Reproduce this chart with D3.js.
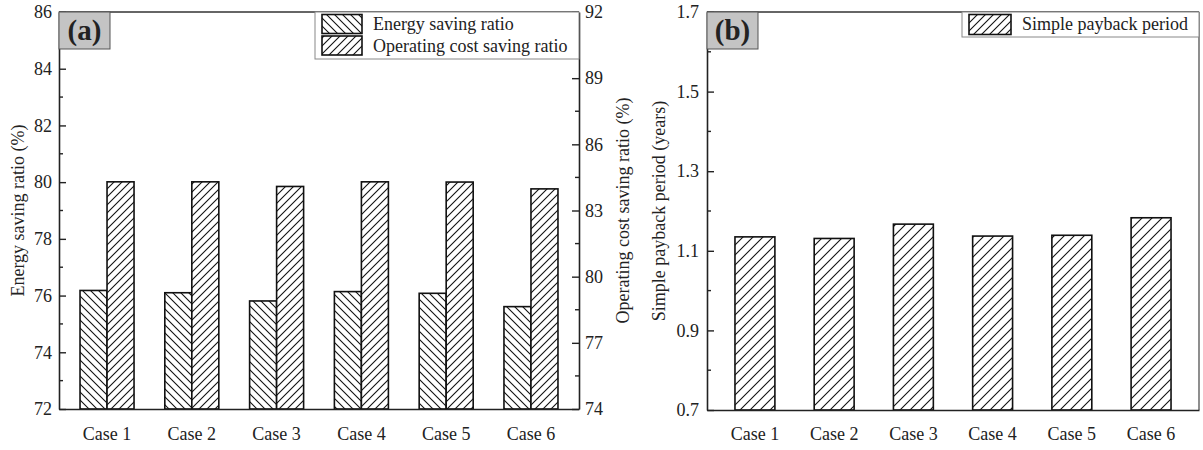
<!DOCTYPE html>
<html>
<head>
<meta charset="utf-8">
<script src="https://cdn.jsdelivr.net/npm/d3@7"></script>
<style>
  body { margin: 0; background: #fff; }
  text { font-family: "Liberation Serif", "Times New Roman", serif; fill: #222; }
</style>
</head>
<body>
<div id="chart"></div>
<script>
var cases = ["Case 1", "Case 2", "Case 3", "Case 4", "Case 5", "Case 6"];
var energySaving = [76.18, 76.10, 75.81, 76.14, 76.08, 75.61];
var costSaving = [84.30, 84.30, 84.09, 84.30, 84.29, 83.98];
var payback = [1.135, 1.131, 1.167, 1.137, 1.139, 1.183];

var energyTicks = [72, 74, 76, 78, 80, 82, 84, 86];
var energyMinor = [73, 75, 77, 79, 81, 83, 85];
var costTicks = [74, 77, 80, 83, 86, 89, 92];
var costMinor = [75.5, 78.5, 81.5, 84.5, 87.5, 90.5];
var paybackTicks = [0.7, 0.9, 1.1, 1.3, 1.5, 1.7];
var paybackMinor = [0.8, 1.0, 1.2, 1.4, 1.6];

var W = 1203, H = 450;
var svg = d3.select("#chart").append("svg")
  .attr("width", W).attr("height", H);

// hatch patterns
var defs = svg.append("defs");
function hatch(id, size, back) {
  var p = defs.append("pattern")
    .attr("id", id)
    .attr("patternUnits", "userSpaceOnUse")
    .attr("width", size).attr("height", size);
  p.append("rect").attr("width", size).attr("height", size).attr("fill", "#fff");
  var s = size;
  var d = back
    ? "M" + (-s / 4) + "," + (3 * s / 4) + " l" + (s / 2) + "," + (s / 2) +
      " M0,0 l" + s + "," + s +
      " M" + (3 * s / 4) + "," + (-s / 4) + " l" + (s / 2) + "," + (s / 2)
    : "M" + (-s / 4) + "," + (s / 4) + " l" + (s / 2) + "," + (-s / 2) +
      " M0," + s + " l" + s + "," + (-s) +
      " M" + (3 * s / 4) + "," + (5 * s / 4) + " l" + (s / 2) + "," + (-s / 2);
  p.append("path").attr("d", d).attr("stroke", "#111").attr("stroke-width", 1.1);
}
hatch("hatchBack", 8, true);
hatch("hatchFwd", 8, false);
hatch("hatchFwdB", 10, false);

// ---------- panel (a) ----------
var a = { left: 59, right: 579, top: 12, bottom: 409 };

var xa = d3.scaleBand().domain(cases)
  .range([a.left, a.right]).paddingInner(0.363).paddingOuter(0.248);
var ya = d3.scaleLinear().domain([72, 86]).range([a.bottom, a.top]);
var ya2 = d3.scaleLinear().domain([74, 92]).range([a.bottom, a.top]);

var ga = svg.append("g");

ga.selectAll(".eBar").data(energySaving).enter().append("rect")
  .attr("x", (d, i) => xa(cases[i]))
  .attr("y", d => ya(d))
  .attr("width", xa.bandwidth() / 2)
  .attr("height", d => ya(72) - ya(d))
  .attr("fill", "url(#hatchBack)")
  .attr("stroke", "#111").attr("stroke-width", 1.6);

ga.selectAll(".cBar").data(costSaving).enter().append("rect")
  .attr("x", (d, i) => xa(cases[i]) + xa.bandwidth() / 2)
  .attr("y", d => ya2(d))
  .attr("width", xa.bandwidth() / 2)
  .attr("height", d => ya2(74) - ya2(d))
  .attr("fill", "url(#hatchFwd)")
  .attr("stroke", "#111").attr("stroke-width", 1.6);

// frame top
ga.append("line").attr("x1", a.left).attr("x2", a.right)
  .attr("y1", a.top).attr("y2", a.top)
  .attr("stroke", "#333").attr("stroke-width", 1.5);

function styleAxis(g) {
  g.select(".domain").attr("stroke", "#222").attr("stroke-width", 1.6);
  g.selectAll(".tick line").attr("stroke", "#222").attr("stroke-width", 1.4);
  g.selectAll("text").style("font-size", "18px")
    .style("font-family", "'Liberation Serif', serif").attr("fill", "#222");
}

var axL = ga.append("g").attr("transform", "translate(" + a.left + ",0)")
  .call(d3.axisLeft(ya).tickValues(energyTicks).tickSizeInner(-7).tickSizeOuter(0).tickPadding(7));
axL.append("g").selectAll("line").data(energyMinor).enter().append("line")
  .attr("x1", 0).attr("x2", 4).attr("y1", d => ya(d)).attr("y2", d => ya(d))
  .attr("stroke", "#222").attr("stroke-width", 1.4);
styleAxis(axL);

var axR = ga.append("g").attr("transform", "translate(" + a.right + ",0)")
  .call(d3.axisRight(ya2).tickValues(costTicks).tickSizeInner(-7).tickSizeOuter(0).tickPadding(6));
axR.append("g").selectAll("line").data(costMinor).enter().append("line")
  .attr("x1", 0).attr("x2", -4).attr("y1", d => ya2(d)).attr("y2", d => ya2(d))
  .attr("stroke", "#222").attr("stroke-width", 1.4);
styleAxis(axR);

var axB = ga.append("g").attr("transform", "translate(0," + a.bottom + ")")
  .call(d3.axisBottom(xa).tickSize(0).tickPadding(18));
styleAxis(axB);

ga.append("text")
  .attr("transform", "translate(24," + (a.top + a.bottom) / 2 + ") rotate(-90)")
  .attr("text-anchor", "middle").style("font-size", "18px")
  .text("Energy saving ratio (%)");
ga.append("text")
  .attr("transform", "translate(629," + (a.top + a.bottom) / 2 + ") rotate(-90)")
  .attr("text-anchor", "middle").style("font-size", "18px")
  .text("Operating cost saving ratio (%)");

// (a) label
ga.append("rect").attr("x", a.left).attr("y", a.top).attr("width", 51).attr("height", 37)
  .attr("fill", "#c4c4c4").attr("stroke", "#555").attr("stroke-width", 1);
ga.append("text").attr("x", a.left + 25.5).attr("y", a.top + 28)
  .attr("text-anchor", "middle").style("font-size", "29px").style("font-weight", "bold")
  .text("(a)");

// legend (a)
var legA = ga.append("g");
legA.append("rect").attr("x", 315).attr("y", a.top).attr("width", a.right - 315).attr("height", 47)
  .attr("fill", "#fff").attr("stroke", "#888").attr("stroke-width", 1);
var legItems = [
  { label: "Energy saving ratio", fill: "url(#hatchBack)" },
  { label: "Operating cost saving ratio", fill: "url(#hatchFwd)" }
];
legItems.forEach(function(d, i) {
  legA.append("rect").attr("x", 322).attr("y", 14.5 + i * 21.5).attr("width", 40).attr("height", 19)
    .attr("fill", d.fill).attr("stroke", "#111").attr("stroke-width", 1.6);
  legA.append("text").attr("x", 373).attr("y", 30 + i * 22)
    .style("font-size", "18px").text(d.label);
});

// ---------- panel (b) ----------
var b = { left: 707, right: 1199, top: 12, bottom: 410 };

var xb = d3.scaleBand().domain(cases)
  .range([b.left, b.right]).paddingInner(0.496).paddingOuter(0.353);
var yb = d3.scaleLinear().domain([0.7, 1.7]).range([b.bottom, b.top]);

var gb = svg.append("g");

gb.selectAll(".pBar").data(payback).enter().append("rect")
  .attr("x", (d, i) => xb(cases[i]))
  .attr("y", d => yb(d))
  .attr("width", xb.bandwidth())
  .attr("height", d => yb(0.7) - yb(d))
  .attr("fill", "url(#hatchFwdB)")
  .attr("stroke", "#111").attr("stroke-width", 1.6);

gb.append("line").attr("x1", b.left).attr("x2", b.right)
  .attr("y1", b.top).attr("y2", b.top)
  .attr("stroke", "#333").attr("stroke-width", 1.5);
gb.append("line").attr("x1", b.right).attr("x2", b.right)
  .attr("y1", b.top).attr("y2", b.bottom)
  .attr("stroke", "#444").attr("stroke-width", 1.2);

var axLb = gb.append("g").attr("transform", "translate(" + b.left + ",0)")
  .call(d3.axisLeft(yb).tickValues(paybackTicks).tickFormat(d3.format(".1f"))
    .tickSizeInner(-7).tickSizeOuter(0).tickPadding(8));
axLb.append("g").selectAll("line").data(paybackMinor).enter().append("line")
  .attr("x1", 0).attr("x2", 4).attr("y1", d => yb(d)).attr("y2", d => yb(d))
  .attr("stroke", "#222").attr("stroke-width", 1.4);
styleAxis(axLb);

var axBb = gb.append("g").attr("transform", "translate(0," + b.bottom + ")")
  .call(d3.axisBottom(xb).tickSize(0).tickPadding(17));
styleAxis(axBb);

gb.append("text")
  .attr("transform", "translate(665," + (b.top + b.bottom) / 2 + ") rotate(-90)")
  .attr("text-anchor", "middle").style("font-size", "18px")
  .text("Simple payback period (years)");

gb.append("rect").attr("x", b.left).attr("y", b.top).attr("width", 51).attr("height", 37)
  .attr("fill", "#c4c4c4").attr("stroke", "#555").attr("stroke-width", 1);
gb.append("text").attr("x", b.left + 25.5).attr("y", b.top + 28)
  .attr("text-anchor", "middle").style("font-size", "29px").style("font-weight", "bold")
  .text("(b)");

var legB = gb.append("g");
legB.append("rect").attr("x", 962).attr("y", b.top).attr("width", b.right - 962).attr("height", 25)
  .attr("fill", "#fff").attr("stroke", "#888").attr("stroke-width", 1);
legB.append("rect").attr("x", 969).attr("y", 14.5).attr("width", 42).attr("height", 20)
  .attr("fill", "url(#hatchFwd)").attr("stroke", "#111").attr("stroke-width", 1.6);
legB.append("text").attr("x", 1022).attr("y", 30).style("font-size", "18px")
  .text("Simple payback period");
</script>
</body>
</html>
